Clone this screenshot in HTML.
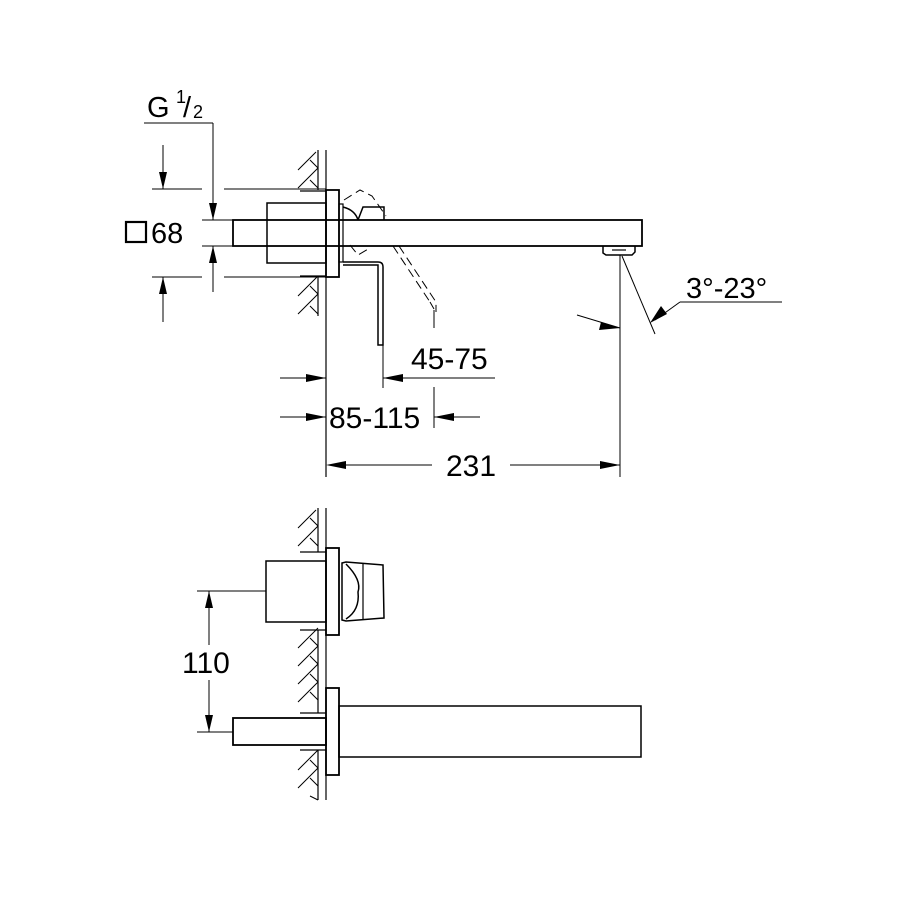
<!DOCTYPE html>
<html><head><style>body{margin:0;background:#fff}svg{display:block}text{font-family:"Liberation Sans",sans-serif;fill:#000}</style></head><body>
<svg width="900" height="900" viewBox="0 0 900 900" xmlns="http://www.w3.org/2000/svg">
<g fill="none" stroke="#000" stroke-width="1.2">
<line x1="318" y1="150" x2="318" y2="190"/><line x1="318" y1="277" x2="318" y2="316"/>
<line x1="326" y1="150" x2="326" y2="477"/>
<g stroke-width="1">
<path d="M298,170 L316,152 M298,188 L318,168 M310,160 L318,168 M310,180 L318,188"/>
<path d="M298,296 L318,276 M298,314 L318,294 M310,286 L318,294 M310,306 L318,314"/>
<path d="M298,528 L316,510 M298,546 L318,526 M310,518 L318,526 M310,538 L318,546"/>
<path d="M298,648 L318,628 M298,666 L318,646 M298,684 L318,664 M298,702 L318,682 M310,638 L318,646 M310,656 L318,664 M310,674 L318,682 M310,692 L318,700"/>
<path d="M298,770 L318,750 M298,788 L318,768 M310,760 L318,768 M310,778 L318,786 M310,796 L318,800"/>
</g>
<line x1="300" y1="191" x2="326" y2="191"/><line x1="300" y1="276" x2="326" y2="276"/>
<rect x="326" y="190" width="13" height="87" stroke-width="1.8"/>
<rect x="339" y="204" width="4" height="58"/>
<rect x="267" y="203" width="59" height="60" stroke-width="1.5"/>
<rect x="233" y="220" width="409" height="26" stroke-width="1.8"/>
<path d="M603,246 L603,253 L606,255 L632,255 L635,252 L635,246" stroke-width="1.5"/>
<line x1="612" y1="250" x2="626" y2="250"/>
<path d="M343,262 L378,262 Q383,262 383,267 L383,345 L378,345 L378,265 L343,265" stroke-width="1.5"/>
<path d="M343,207 Q355,210 358,220 M358,220 L363,207 L384,207 L384,220" stroke-width="1.5"/>
<path d="M344,200 L360,190 L372,196 L386,216 M350,245 L358,255 L370,248 M393,246 L430,302 M399,246 L436,302 L436,312 M430,302 L434,309" stroke-dasharray="9,5" stroke-width="1"/>
<line x1="434" y1="310" x2="434" y2="328" stroke-width="1"/>
<line x1="383" y1="345" x2="383" y2="388" stroke-width="1"/>
<line x1="434" y1="387" x2="434" y2="428" stroke-width="1"/>
<line x1="620" y1="255" x2="620" y2="477" stroke-width="1"/>
<line x1="622" y1="256" x2="655" y2="334" stroke-width="1"/>
<g stroke-width="1">
<line x1="152" y1="189" x2="202" y2="189"/><line x1="224" y1="189" x2="326" y2="189"/>
<line x1="152" y1="277" x2="202" y2="277"/><line x1="224" y1="277" x2="326" y2="277"/>
<line x1="163" y1="145" x2="163" y2="189"/><line x1="163" y1="277" x2="163" y2="322"/>
<line x1="144" y1="123" x2="213" y2="123"/><line x1="213" y1="123" x2="213" y2="220"/>
<line x1="213" y1="246" x2="213" y2="292"/>
<line x1="202" y1="220" x2="233" y2="220"/><line x1="202" y1="246" x2="233" y2="246"/>
<line x1="280" y1="378" x2="326" y2="378"/><line x1="383" y1="378" x2="495" y2="378"/>
<line x1="280" y1="417" x2="326" y2="417"/><line x1="434" y1="417" x2="480" y2="417"/>
<line x1="330" y1="465" x2="432" y2="465"/><line x1="510" y1="465" x2="620" y2="465"/>
<line x1="680" y1="302" x2="782" y2="302"/><line x1="680" y1="302" x2="655" y2="320"/>
<path d="M577,315 Q600,322 620,328"/>
</g>
<rect x="126" y="222" width="20" height="20" stroke-width="2.2"/>
<line x1="318" y1="508" x2="318" y2="552"/><line x1="318" y1="630" x2="318" y2="713"/><line x1="318" y1="750" x2="318" y2="800"/>
<line x1="326" y1="508" x2="326" y2="800"/>
<line x1="300" y1="552" x2="326" y2="552"/><line x1="300" y1="630" x2="326" y2="630"/>
<line x1="300" y1="713" x2="326" y2="713"/><line x1="300" y1="750" x2="326" y2="750"/>
<rect x="326" y="548" width="13" height="87" stroke-width="1.8"/>
<rect x="266" y="561" width="60" height="61" stroke-width="1.5"/>
<path d="M342,563 L346,562 L383,565 L384,618 L346,621 L342,620 Z" stroke-width="1.5"/>
<path d="M346,564 Q362,580 358,592 Q360,610 346,619" stroke-width="1.5"/>
<line x1="363" y1="563" x2="363" y2="619"/>
<rect x="326" y="688" width="13" height="87" stroke-width="1.8"/>
<rect x="339" y="706" width="302" height="51" stroke-width="1.5"/>
<rect x="233" y="718" width="93" height="27" stroke-width="1.8"/>
<g stroke-width="1">
<line x1="197" y1="591" x2="266" y2="591"/><line x1="197" y1="732" x2="233" y2="732"/>
<line x1="209" y1="591" x2="209" y2="645"/><line x1="209" y1="680" x2="209" y2="732"/>
</g>
</g>
<g fill="#000">
<path d="M163,189 L159,172 L167,172 Z"/><path d="M163,277 L159,294 L167,294 Z"/>
<path d="M213,220 L209,203 L217,203 Z"/><path d="M213,246 L209,263 L217,263 Z"/>
<path d="M326,378 L306,374 L306,382 Z"/><path d="M383,378 L403,374 L403,382 Z"/>
<path d="M326,417 L306,413 L306,421 Z"/><path d="M434,417 L454,413 L454,421 Z"/>
<path d="M326,465 L346,461 L346,469 Z"/><path d="M620,465 L600,461 L600,469 Z"/>
<path d="M620,328 L601,322 L599,330 Z"/><path d="M650,323 L661,306 L667,314 Z"/>
<path d="M209,591 L205,608 L213,608 Z"/><path d="M209,732 L205,715 L213,715 Z"/>
</g>
<text x="147" y="117" font-size="29">G</text>
<text x="176" y="103" font-size="18">1</text>
<text x="183" y="117" font-size="29">/</text>
<text x="193" y="118" font-size="18">2</text>
<text x="151" y="243" font-size="29">68</text>
<text x="411" y="369" font-size="30">45-75</text>
<text x="329" y="428" font-size="30">85-115</text>
<text x="446" y="476" font-size="30">231</text>
<text x="686" y="298" font-size="29">3°-23°</text>
<text x="182" y="673" font-size="30">110</text>
</svg>
</body></html>
